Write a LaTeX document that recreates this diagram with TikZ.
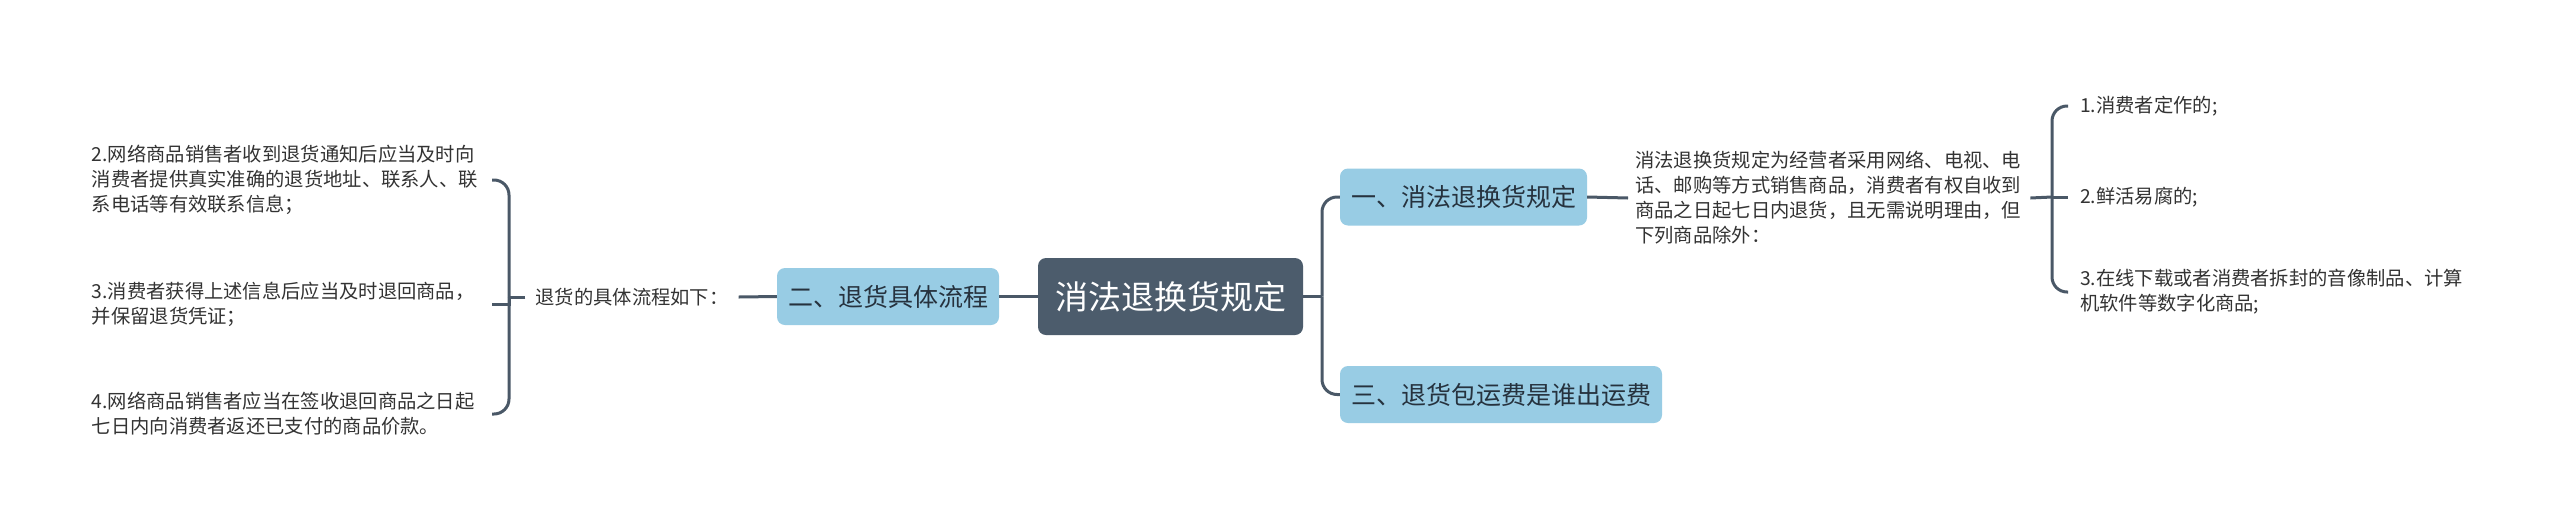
\documentclass[tikz,border=0pt]{standalone}
\usepackage{fontspec}
\newfontfamily\cjk{Noto Sans CJK SC}
\definecolor{lineC}{HTML}{4A5867}
\definecolor{rootC}{HTML}{4C5C6C}
\definecolor{blueC}{HTML}{98CCE4}
\definecolor{textC}{HTML}{26323E}
\definecolor{leafC}{HTML}{333333}
\begin{document}
\begin{tikzpicture}[x=1pt,y=-1pt,
  conn/.style={draw=lineC, line width=3pt},
  rootbox/.style={fill=rootC, text=white, rounded corners=8pt, minimum width=265pt, minimum height=77pt, inner sep=0pt, font=\cjk\fontsize{33}{40}\selectfont},
  branchbox/.style={fill=blueC, text=textC, rounded corners=8pt, minimum height=57pt, inner sep=0pt, font=\cjk\fontsize{25}{30}\selectfont},
  leaf/.style={text=leafC, align=left, inner xsep=12pt, inner ysep=0pt, font=\cjk\fontsize{19.3}{25}\selectfont},
]
\useasboundingbox (0,0) rectangle (2560,531);
\fill[white] (0,0) rectangle (2560,531);

% main nodes
\node[rootbox] (c) at (1170.5,296.5) {消法退换货规定};
\node[branchbox, minimum width=222pt] (b2) at (888,296.5) {二、退货具体流程};
\node[branchbox, minimum width=247pt] (b1) at (1463.5,197) {一、消法退换货规定};
\node[branchbox, minimum width=322pt] (b3) at (1501,394.5) {三、退货包运费是谁出运费};

% left side
\node[leaf, inner xsep=10pt] (lab) at (632,297) {退货的具体流程如下：};
\node[leaf, anchor=east, text width=388pt] (l2) at (492,180) {2.网络商品销售者收到退货通知后应当及时向\\消费者提供真实准确的退货地址、联系人、联\\系电话等有效联系信息；};
\node[leaf, anchor=east, text width=388pt] (l3) at (492,304) {3.消费者获得上述信息后应当及时退回商品，\\并保留退货凭证；};
\node[leaf, anchor=east, text width=388pt] (l4) at (492,414) {4.网络商品销售者应当在签收退回商品之日起\\七日内向消费者返还已支付的商品价款。};

% right side
\node[leaf, anchor=west, inner xsep=7pt, text width=388pt] (desc) at (1628,198) {消法退换货规定为经营者采用网络、电视、电\\话、邮购等方式销售商品，消费者有权自收到\\商品之日起七日内退货，且无需说明理由，但\\下列商品除外：};
\node[leaf, anchor=west] (r1) at (2068,106) {1.消费者定作的;};
\node[leaf, anchor=west] (r2) at (2068,197) {2.鲜活易腐的;};
\node[leaf, anchor=west] (r3) at (2068,292) {3.在线下载或者消费者拆封的音像制品、计算\\机软件等数字化商品;};

% junction coordinates
\coordinate (j) at (1322,296.5);
\coordinate (bl) at (509,297);
\coordinate (br) at (2052,197);

% connectors
\draw[conn] (c.east) -- (j);
\draw[conn, rounded corners=15pt] (j) |- (b1.west);
\draw[conn, rounded corners=15pt] (j) |- (b3.west);
\draw[conn] (c.west) -- (b2.east);
\draw[conn] (b2.west) -- (lab.east);
\draw[conn] (lab.west) -- (bl);
\draw[conn, rounded corners=15pt] (bl) |- (l2.east);
\draw[conn] (bl) |- (l3.east);
\draw[conn, rounded corners=15pt] (bl) |- (l4.east);
\draw[conn] (b1.east) -- (desc.west);
\draw[conn] (desc.east) -- (br);
\draw[conn, rounded corners=15pt] (br) |- (r1.west);
\draw[conn] (br) -- (r2.west);
\draw[conn, rounded corners=15pt] (br) |- (r3.west);
\end{tikzpicture}
\end{document}
